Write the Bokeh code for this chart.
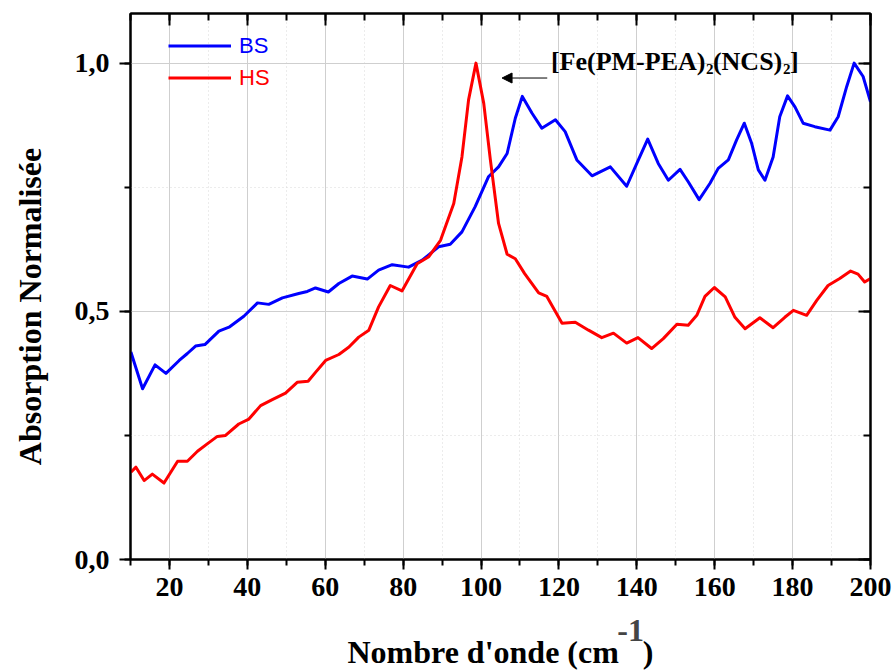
from bokeh.plotting import figure
from bokeh.models import (Range1d, LinearAxis, SingleIntervalTicker, FixedTicker,
                          CustomJSTickFormatter, Legend, LegendItem, Label, Arrow, NormalHead)
from bokeh.embed import file_html
from bokeh.resources import INLINE

# ---- data ----
bs_x = [10.1, 13.1, 16.3, 19.1, 22.5, 24.6, 26.7, 29.1, 32.7, 35.3, 39.1, 42.6, 45.5, 49.0,
        53.2, 55.4, 57.5, 60.8, 63.5, 66.9, 70.8, 73.7, 77.2, 81.4, 84.9, 89.1, 92.1, 95.1,
        98.5, 101.9, 104.5, 106.7, 108.8, 110.6, 113.1, 115.6, 119.1, 121.6, 124.6, 128.5,
        133.2, 137.4, 140.4, 142.8, 145.5, 148.1, 151.1, 153.2, 156.0, 158.8, 160.9, 163.5,
        165.6, 167.6, 169.5, 171.2, 172.9, 175.0, 176.7, 178.7, 180.6, 182.7, 185.7, 189.6,
        191.7, 193.9, 195.8, 198.1, 200.0]
bs_y = [0.418, 0.344, 0.392, 0.375, 0.401, 0.415, 0.430, 0.433, 0.460, 0.468, 0.490, 0.517,
        0.514, 0.527, 0.536, 0.540, 0.547, 0.539, 0.556, 0.571, 0.565, 0.583, 0.594, 0.589,
        0.603, 0.630, 0.635, 0.660, 0.711, 0.771, 0.791, 0.818, 0.889, 0.933, 0.899, 0.869,
        0.886, 0.862, 0.805, 0.773, 0.791, 0.752, 0.805, 0.847, 0.798, 0.764, 0.786, 0.761,
        0.725, 0.758, 0.788, 0.805, 0.845, 0.879, 0.838, 0.785, 0.764, 0.811, 0.892, 0.934,
        0.912, 0.879, 0.872, 0.865, 0.892, 0.953, 1.000, 0.973, 0.922]

hs_x = [10.1, 11.4, 13.5, 15.6, 18.6, 22.1, 24.6, 27.2, 29.7, 32.3, 34.4, 37.8, 40.4, 43.4,
        46.4, 49.8, 52.8, 55.6, 57.5, 60.1, 63.5, 66.1, 68.6, 71.2, 73.7, 76.7, 79.7, 83.6,
        86.6, 89.6, 93.0, 95.1, 96.8, 98.7, 100.7, 102.4, 104.5, 106.7, 108.8, 111.2, 114.8,
        116.9, 120.8, 124.2, 127.6, 131.0, 134.0, 137.4, 140.3, 143.8, 146.8, 150.3, 153.2,
        155.4, 157.5, 159.9, 162.7, 165.2, 167.8, 171.6, 175.0, 178.0, 180.2, 183.6, 186.2,
        189.1, 192.1, 194.9, 196.8, 198.5, 200.0]
hs_y = [0.176, 0.186, 0.159, 0.172, 0.154, 0.198, 0.198, 0.218, 0.233, 0.248, 0.250, 0.273,
        0.283, 0.310, 0.322, 0.335, 0.357, 0.359, 0.377, 0.401, 0.413, 0.428, 0.448, 0.462,
        0.509, 0.552, 0.541, 0.596, 0.610, 0.643, 0.717, 0.811, 0.926, 1.000, 0.919, 0.805,
        0.677, 0.615, 0.606, 0.576, 0.537, 0.530, 0.476, 0.478, 0.462, 0.447, 0.456, 0.436,
        0.447, 0.425, 0.445, 0.474, 0.472, 0.492, 0.530, 0.548, 0.529, 0.488, 0.465, 0.487,
        0.467, 0.488, 0.502, 0.492, 0.522, 0.552, 0.566, 0.581, 0.575, 0.559, 0.566]

series_names = ["BS", "HS"]
NB = "\u00a0"
x_title = "Nombre d'onde (cm" + NB * 3 + ")"
x_title_sup = "-1"
y_title = "Absorption Normalisée" + NB * 5

SERIF = "Liberation Serif"

p = figure(width=893, height=672, output_backend="svg", toolbar_location=None,
           x_range=Range1d(10, 200), y_range=Range1d(0, 1.1),
           min_border_left=130, min_border_right=23, min_border_top=13, min_border_bottom=113)
p.background_fill_color = "white"
p.border_fill_color = "white"
p.outline_line_color = "black"
p.outline_line_width = 2

xt = SingleIntervalTicker(interval=20, num_minor_ticks=2)
yt = SingleIntervalTicker(interval=0.5, num_minor_ticks=2)

xa = p.xaxis[0]
xa.ticker = xt
ya = p.yaxis[0]
ya.ticker = yt
ya.formatter = CustomJSTickFormatter(code="return tick.toFixed(1).replace('.', ',');")

for ax in (xa, ya):
    ax.axis_line_width = 2
    ax.axis_line_color = "black"
    ax.major_tick_line_width = 2
    ax.minor_tick_line_width = 2
    ax.major_tick_in = 0
    ax.minor_tick_in = 0
    ax.major_label_text_font = SERIF
    ax.major_label_text_font_style = "bold"
    ax.major_label_text_font_size = "28px"
    ax.major_label_text_color = "black"
    ax.axis_label_text_font = SERIF
    ax.axis_label_text_font_style = "bold"
    ax.axis_label_text_font_size = "32px"
    ax.axis_label_text_color = "black"
xa.major_tick_out = 10
xa.minor_tick_out = 6
xa.major_label_standoff = 8
xa.axis_label = None
ya.major_tick_out = 11
ya.minor_tick_out = 6
ya.major_label_standoff = 10
ya.axis_label = y_title
ya.axis_label_standoff = 24

# second row below the x axis: the raised "-1" as its tick label, the title as its label
sup = LinearAxis(ticker=FixedTicker(ticks=[138.4]),
                 formatter=CustomJSTickFormatter(code="return '" + x_title_sup + "';"),
                 axis_line_color=None, major_tick_line_color=None, minor_tick_line_color=None,
                 major_tick_out=0, major_tick_in=0, minor_tick_out=0, minor_tick_in=0,
                 major_label_standoff=21, major_label_text_font=SERIF,
                 major_label_text_font_style="bold", major_label_text_font_size="32px",
                 axis_label=x_title, axis_label_standoff=-10, axis_label_text_font=SERIF,
                 axis_label_text_font_style="bold", axis_label_text_font_size="32px",
                 axis_label_text_color="black")
p.add_layout(sup, "below")

blank = "return '';"
top = LinearAxis(ticker=xt, formatter=CustomJSTickFormatter(code=blank),
                 major_label_text_font_size="10px", major_label_standoff=0,
                 major_tick_in=12, major_tick_out=0, minor_tick_in=7, minor_tick_out=0,
                 axis_line_width=2, major_tick_line_width=2, minor_tick_line_width=2)
right = LinearAxis(ticker=yt, formatter=CustomJSTickFormatter(code=blank),
                   major_label_text_font_size="10px", major_label_standoff=0,
                   major_tick_in=12, major_tick_out=0, minor_tick_in=7, minor_tick_out=0,
                   axis_line_width=2, major_tick_line_width=2, minor_tick_line_width=2)
p.add_layout(top, "above")
p.add_layout(right, "right")

for g in (p.xgrid[0], p.ygrid[0]):
    g.grid_line_color = "#cfcfcf"
    g.grid_line_width = 1
    g.minor_grid_line_color = "#d8d8d8"
    g.minor_grid_line_dash = "1 3"
    g.minor_grid_line_width = 1
p.xgrid[0].ticker = xt
p.ygrid[0].ticker = yt

r_bs = p.line(bs_x, bs_y, line_color="#0000ff", line_width=3, line_join="round")
r_hs = p.line(hs_x, hs_y, line_color="#ff0000", line_width=3, line_join="round")


def mk_legend(name, rend, color, vy):
    return Legend(items=[LegendItem(label=name, renderers=[rend])], location=(38, vy),
                  glyph_width=63, glyph_height=29, label_height=29, label_standoff=8,
                  padding=0, margin=0, spacing=0, border_line_alpha=0,
                  background_fill_alpha=0, label_text_font="Liberation Sans",
                  label_text_font_size="22px", label_text_color=color)


p.add_layout(mk_legend(series_names[0], r_bs, "#0000ff", 499))
p.add_layout(mk_legend(series_names[1], r_hs, "#ff0000", 467))

# annotation with arrow
p.add_layout(Arrow(end=NormalHead(size=10, fill_color="black", line_color="black", line_width=1),
                   x_start=117.0, y_start=0.970, x_end=105.4, y_end=0.970,
                   line_color="black", line_width=1))

ann = [("[Fe(PM-PEA)", 0, 0, "26px"), ("2", 155, -7, "15px"), ("(NCS)", 162, 0, "26px"),
       ("2", 232, -7, "15px"), ("]", 239, 0, "26px")]
for txt, dx, dy, fs in ann:
    p.add_layout(Label(x=117.95, y=1.003, x_offset=dx, y_offset=dy, text=txt,
                       text_font=SERIF, text_font_style="bold", text_font_size=fs,
                       text_baseline="alphabetic", text_align="left", text_color="black"))

open("out.html", "w").write(file_html(p, INLINE))
